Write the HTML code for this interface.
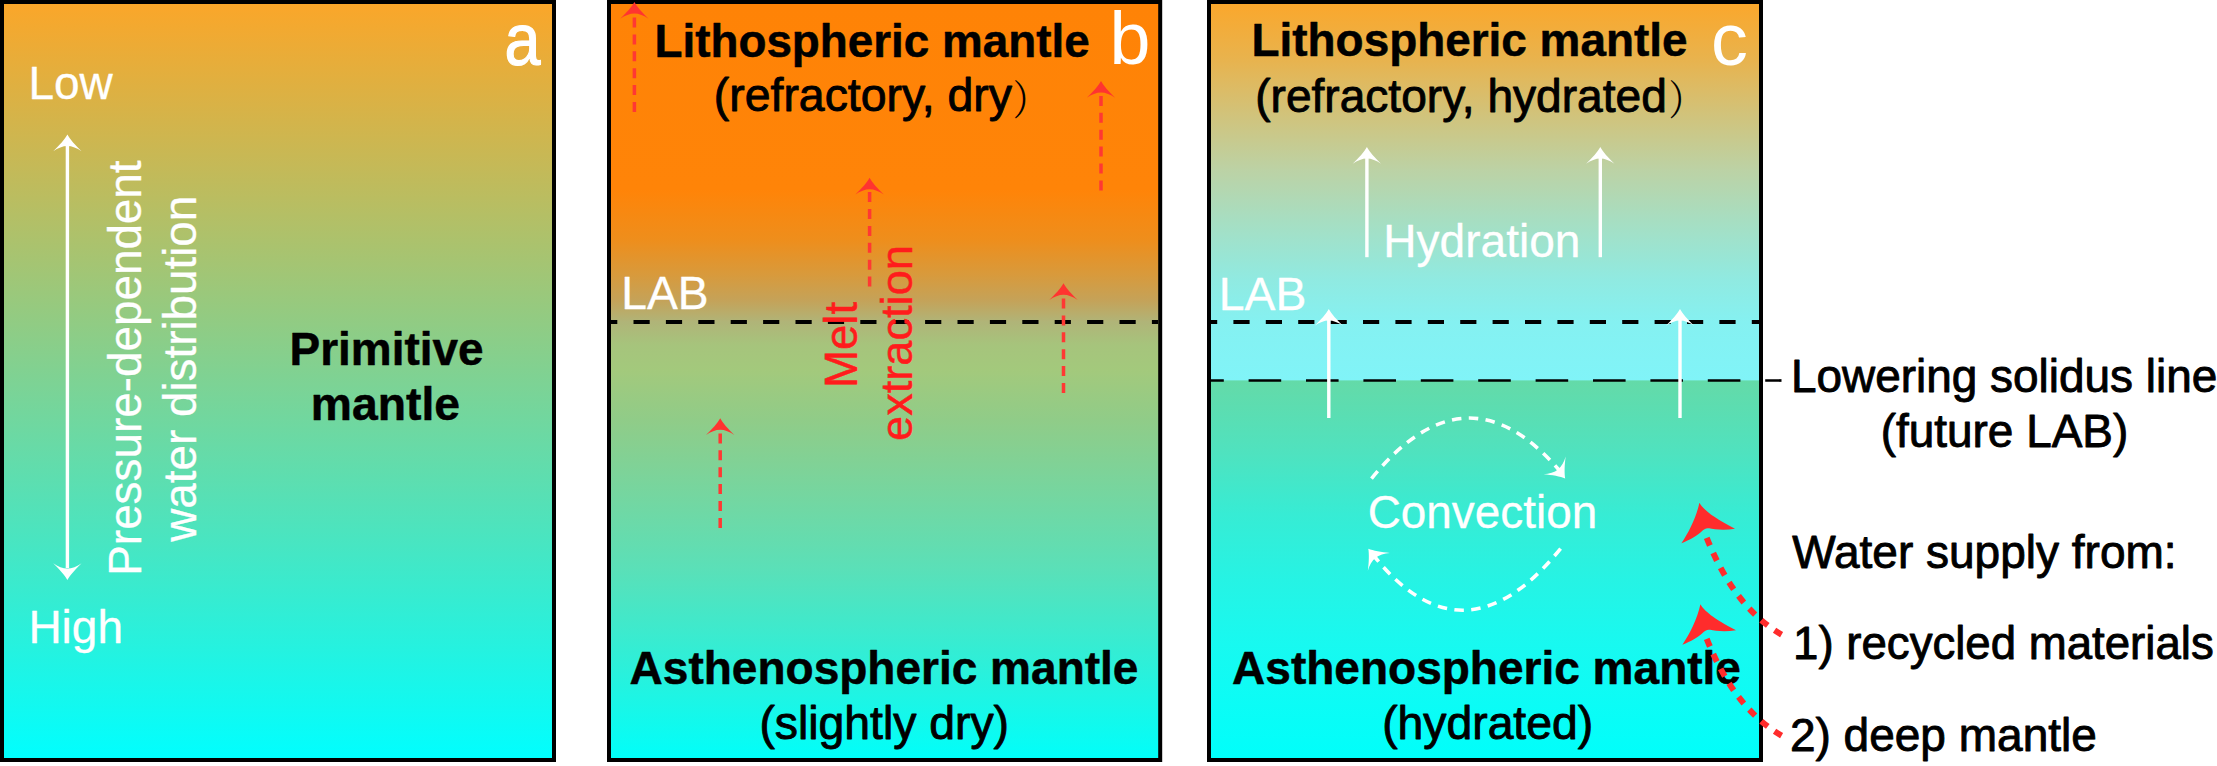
<!DOCTYPE html>
<html lang="en">
<head>
<meta charset="utf-8">
<title>Mantle hydration model</title>
<style>
html,body{margin:0;padding:0;background:#fff;}
body{width:2217px;height:766px;overflow:hidden;}
svg{display:block;}
text{font-family:"Liberation Sans",Arial,sans-serif;stroke-linejoin:round;}
.b{font-weight:bold;fill:#000;stroke:#000;stroke-width:.5px;}
.k{fill:#000;stroke:#000;stroke-width:.9px;}
.w{fill:#fff;stroke:#fff;stroke-width:.3px;}
.lw{fill:#fff;}
.la{fill:#fff;stroke:#fff;stroke-width:1.2px;}
.r{fill:#ff1c1c;stroke:#ff1c1c;stroke-width:.5px;}
.p{font-family:"Noto Serif CJK SC","Liberation Serif",serif;fill:#000;}
</style>
</head>
<body>
<svg width="2217" height="766" viewBox="0 0 2217 766">
<defs>
<linearGradient id="ga" x1="0" y1="0" x2="0" y2="1">
<stop offset="0" stop-color="#fba629"/>
<stop offset="1" stop-color="#00ffff"/>
</linearGradient>
<linearGradient id="gb" x1="0" y1="0" x2="0" y2="1">
<stop offset="0" stop-color="#ff8306"/>
<stop offset="0.248" stop-color="#ff8408"/>
<stop offset="0.314" stop-color="#ee8e1c"/>
<stop offset="0.360" stop-color="#d89a3c"/>
<stop offset="0.393" stop-color="#c5a258"/>
<stop offset="0.422" stop-color="#b0b478"/>
<stop offset="0.4525" stop-color="#a6c47c"/>
<stop offset="0.4855" stop-color="#a3c97c"/>
<stop offset="0.5515" stop-color="#90cc88"/>
<stop offset="0.749" stop-color="#5ae0b8"/>
<stop offset="1" stop-color="#00fffa"/>
</linearGradient>
<linearGradient id="gc1" x1="0" y1="0" x2="0" y2="1">
<stop offset="0" stop-color="#fba72b"/>
<stop offset="0.153" stop-color="#e8b34e"/>
<stop offset="0.298" stop-color="#d1c37b"/>
<stop offset="0.443" stop-color="#bcd2a5"/>
<stop offset="0.588" stop-color="#a5dfc4"/>
<stop offset="0.733" stop-color="#90eae1"/>
<stop offset="0.844" stop-color="#85f1f1"/>
<stop offset="1" stop-color="#80f4f8"/>
</linearGradient>
<linearGradient id="gc2" x1="0" y1="0" x2="0" y2="1">
<stop offset="0" stop-color="#64daa8"/>
<stop offset="0.183" stop-color="#50e2be"/>
<stop offset="0.352" stop-color="#37ecd4"/>
<stop offset="0.526" stop-color="#26f3e4"/>
<stop offset="0.694" stop-color="#18f9f0"/>
<stop offset="1" stop-color="#00fffb"/>
</linearGradient>
<path id="ah" d="M0,0 C2.5,4.5 8,11 14.2,16.8 C9.5,13.5 4.5,11.5 0,11.5 C-4.5,11.5 -9.5,13.5 -14.2,16.8 C-8,11 -2.5,4.5 0,0 Z"/>
<clipPath id="cb"><rect x="611" y="4" width="547" height="754"/></clipPath>
<clipPath id="cl"><rect x="1209" y="370" width="580" height="20"/></clipPath>
<clipPath id="cc"><rect x="1211" y="4" width="548" height="754"/></clipPath>
</defs>

<rect x="2" y="2" width="552" height="758" fill="url(#ga)" stroke="#000" stroke-width="4"/>
<rect x="609" y="2" width="551.2" height="758" fill="url(#gb)" stroke="#000" stroke-width="4"/>
<rect x="1209" y="2" width="552" height="379" fill="url(#gc1)"/>
<rect x="1209" y="380.4" width="552" height="379.6" fill="url(#gc2)"/>
<rect x="1209" y="2" width="552" height="758" fill="none" stroke="#000" stroke-width="4"/>
<text transform="translate(504.45,65) scale(.875,1)" font-size="74" class="la">a</text>
<text x="28.4" y="99.2" font-size="46" class="w">Low</text>
<text x="28.4" y="642.5" font-size="46" class="w">High</text>
<g fill="#fff"><rect x="65.7" y="146" width="3.4" height="422"/>
<use href="#ah" transform="translate(67.4,134.5)"/>
<use href="#ah" transform="translate(67.4,580) rotate(180)"/></g>
<text transform="translate(141.0,575.7) rotate(-90)" font-size="45.84" class="w">Pressure-dependent</text>
<text transform="translate(195.8,541.7) rotate(-90)" font-size="45.78" class="w">water distribution</text>
<text x="289.6" y="365.2" font-size="45.93" class="b">Primitive</text>
<text x="310.8" y="420.0" font-size="46.3" class="b">mantle</text>
<text x="654.5" y="56.5" font-size="45.81" class="b">Lithospheric mantle</text>
<text x="713.8" y="111.4" font-size="46.4" class="k">(refractory, dry</text>
<text transform="translate(1012.7,115.1) scale(.87,1)" font-size="41" class="p">）</text>
<text x="1109.6" y="64" font-size="73.6" class="lw">b</text>
<text x="621.3" y="308.7" font-size="46.2" class="w">LAB</text>
<line x1="601.1" y1="321.9" x2="1158" y2="321.9" stroke="#000" stroke-width="4" stroke-dasharray="16.2 16.2" clip-path="url(#cb)"/>
<g stroke="#ff3833" stroke-width="3.5" stroke-dasharray="10 6.9" fill="none">
<line x1="634.4" y1="112" x2="634.4" y2="14"/>
<line x1="1101" y1="190.4" x2="1101" y2="93"/>
<line x1="869.6" y1="286.6" x2="869.6" y2="189.7"/>
<line x1="1063.5" y1="393" x2="1063.5" y2="295.2"/>
<line x1="720.2" y1="527.9" x2="720.2" y2="430.3"/>
</g><g fill="#ff3430">
<use href="#ah" transform="translate(634.4,2)"/>
<use href="#ah" transform="translate(1101,81)"/>
<use href="#ah" transform="translate(869.6,177.7)"/>
<use href="#ah" transform="translate(1063.5,283.2)"/>
<use href="#ah" transform="translate(720.2,418.3)"/>
</g>
<text transform="translate(857.3,388.0) rotate(-90)" font-size="45.62" class="r">Melt</text>
<text transform="translate(912.1,441.0) rotate(-90)" font-size="45.2" class="r">extraction</text>
<text x="629.6" y="683.75" font-size="46.02" class="b">Asthenospheric mantle</text>
<text x="759.4" y="738.7" font-size="46.32" class="k">(slightly dry)</text>
<text x="1251.5" y="56.25" font-size="45.9" class="b">Lithospheric mantle</text>
<text x="1255.2" y="111.75" font-size="46.1" class="k">(refractory, hydrated</text>
<text transform="translate(1668.4,115.3) scale(.87,1)" font-size="41" class="p">）</text>
<text x="1711" y="64.5" font-size="73.7" class="lw">c</text>
<text x="1218.8" y="309.6" font-size="46.3" class="w">LAB</text>
<text x="1383.3" y="256.6" font-size="46.05" class="w">Hydration</text>
<text x="1367.7" y="527.6" font-size="45.9" class="w">Convection</text>
<text x="1232.1" y="683.75" font-size="46.02" class="b">Asthenospheric mantle</text>
<text x="1382.2" y="738.75" font-size="46.29" class="k">(hydrated)</text>
<line x1="1201.0" y1="321.9" x2="1759" y2="321.9" stroke="#000" stroke-width="4" stroke-dasharray="16.2 16.2" clip-path="url(#cc)"/>
<line x1="1191.2" y1="380.5" x2="1781.5" y2="380.5" stroke="#000" stroke-width="2.7" stroke-dasharray="32.6 24.8" clip-path="url(#cl)"/>
<rect x="1759" y="370" width="4" height="20" fill="#000"/>
<g fill="#fff">
<rect x="1327.1" y="320" width="3.4" height="98"/>
<use href="#ah" transform="translate(1328.8,309)"/>
<rect x="1678.3" y="320" width="3.4" height="98"/>
<use href="#ah" transform="translate(1680,309)"/>
<rect x="1365.2" y="158" width="3.4" height="99.19999999999999"/>
<use href="#ah" transform="translate(1366.9,147)"/>
<rect x="1598.6" y="158" width="3.4" height="99.19999999999999"/>
<use href="#ah" transform="translate(1600.3,147)"/>
</g>
<g stroke="#fff" stroke-width="3.6" stroke-dasharray="9.5 7.4" fill="none">
<path d="M1371.5,478.6 Q1466,362 1559,470"/>
<path d="M1560.6,548.6 Q1464,668 1374,556"/>
</g><g fill="#fff">
<use href="#ah" transform="translate(1565.2,478.4) rotate(141)"/>
<use href="#ah" transform="translate(1368.3,548.8) rotate(-39)"/>
</g>
<text x="1790.9" y="392.1" font-size="45.95" class="k">Lowering solidus line</text>
<text x="1880.7" y="446.7" font-size="45.93" class="k">(future LAB)</text>
<text x="1792.2" y="567.6" font-size="46.03" class="k">Water supply from:</text>
<text x="1793.1" y="659.2" font-size="45.6" class="k">1) recycled materials</text>
<text x="1789.9" y="751.1" font-size="46.02" class="k">2) deep mantle</text>
<g stroke="#ff2c2c" stroke-width="6" stroke-dasharray="8.3 8.35" stroke-dashoffset="13.9" fill="none">
<path d="M1784,636 Q1733,608 1704.5,532"/>
<path d="M1784,737 Q1733,709 1704.5,633"/>
</g><g fill="#ff2c2c">
<path d="M1699.4,502.8 C1703,509 1712,517 1735,528.7 C1725,530.5 1714,529.5 1709.2,528.3 C1706,527.8 1704,529 1701.3,531.8 C1697,536 1690,540 1681.4,543.2 C1689,532 1696,518 1699.4,502.8 Z"/>
<path d="M1699.4,502.8 C1703,509 1712,517 1735,528.7 C1725,530.5 1714,529.5 1709.2,528.3 C1706,527.8 1704,529 1701.3,531.8 C1697,536 1690,540 1681.4,543.2 C1689,532 1696,518 1699.4,502.8 Z" transform="translate(1,101.5)"/>
</g>
</svg>
</body>
</html>
